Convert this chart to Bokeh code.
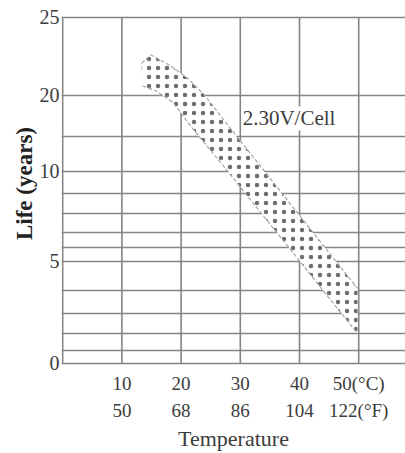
import numpy as np
from bokeh.plotting import figure
from bokeh.models import Range1d, FixedTicker, LinearAxis, Label
from bokeh.embed import file_html
from bokeh.resources import INLINE

# printed (non-uniform) life scale: life value -> relative height 0..100
SCALE_LIFE = [0, 1, 2, 3, 4, 5, 6, 7, 8, 9, 10, 15, 20, 25]
SCALE_POS = [0, 3.76, 8.67, 14.45, 21.1, 29.5, 33.5, 37.9, 43.4, 49.1, 55.5, 65.6, 77.5, 100]

Y_TICK_LIFE = [0, 5, 10, 20, 25]
Y_TICK_LABELS = ["0", "5", "10", "20", "25"]

X_GRID_C = [0, 10, 20, 30, 40, 50]
X_TICK_C = [10, 20, 30, 40, 50]
X_LABELS_C = ["10", "20", "30", "40", "50(°C)"]
X_LABELS_F = ["50", "68", "86", "104", "122(°F)"]

# 2.30V/Cell life band: upper and lower bounds (temperature °C, life years)
UPPER_T = [13.3, 14.9, 18.2, 21.1, 24.0, 28.2, 33.1, 38.0, 43.9, 49.8]
UPPER_LIFE = [22.05, 22.6, 21.9, 21.1, 20.0, 16.1, 11.1, 8.65, 6.2, 4.07]
LOWER_T = [13.5, 15.7, 18.6, 21.8, 27.9, 31.8, 36.0, 40.2, 44.9, 49.8]
LOWER_LIFE = [20.6, 20.3, 19.15, 16.1, 10.0, 8.65, 7.05, 4.97, 3.70, 2.0]

BAND_LABEL = "2.30V/Cell"
BAND_LABEL_T = 30.4
BAND_LABEL_LIFE = 17.2


def ypos(life):
    return np.interp(np.asarray(life, dtype=float), SCALE_LIFE, SCALE_POS)


GRID_COLOR = "#858585"
TEXT_COLOR = "#3c3c3c"
FONT = "Liberation Serif"

p = figure(width=405, height=453,
           x_range=Range1d(-0.2, 57.9), y_range=Range1d(-0.87, 104.91),
           output_backend="svg", toolbar_location=None,
           min_border_left=61, min_border_top=0, min_border_right=0, min_border_bottom=87)
p.outline_line_color = None
p.background_fill_color = "white"
p.xgrid.visible = False

p.ygrid.ticker = FixedTicker(ticks=[float(v) for v in SCALE_POS])
p.ygrid.grid_line_color = GRID_COLOR
p.ygrid.grid_line_width = 1.6

# vertical grid lines (between life 0 and life 25)
p.segment(x0=X_GRID_C, y0=[float(ypos(0))] * len(X_GRID_C),
          x1=X_GRID_C, y1=[float(ypos(25))] * len(X_GRID_C),
          line_color=GRID_COLOR, line_width=1.6)

# band (white, dotted)
bx = UPPER_T + LOWER_T[::-1]
by = list(ypos(UPPER_LIFE + LOWER_LIFE[::-1]))
p.patch(bx, by, fill_color="white", line_color=None,
        hatch_pattern="dot", hatch_color="#6e6e6e", hatch_scale=9, hatch_weight=0.5)
p.line(UPPER_T, list(ypos(UPPER_LIFE)), line_color="#a0a0a0", line_width=1.1, line_dash="4 2")
p.line(LOWER_T, list(ypos(LOWER_LIFE)), line_color="#a0a0a0", line_width=1.1, line_dash="4 2")

p.add_layout(Label(x=BAND_LABEL_T, y=float(ypos(BAND_LABEL_LIFE)), text=BAND_LABEL,
                   text_font=FONT, text_font_size="21px", text_color=TEXT_COLOR,
                   text_baseline="middle", text_align="left",
                   background_fill_color="white"))


def style_axis(ax, standoff):
    ax.axis_line_color = None
    ax.major_tick_line_color = None
    ax.minor_tick_line_color = None
    ax.major_tick_out = 0
    ax.major_tick_in = 0
    ax.minor_tick_out = 0
    ax.major_label_standoff = standoff
    ax.major_label_text_font = FONT
    ax.major_label_text_font_size = "19px"
    ax.major_label_text_color = TEXT_COLOR
    ax.axis_label_text_font = FONT
    ax.axis_label_text_color = TEXT_COLOR


# y axis
ya = p.yaxis[0]
y_ticks = [float(v) for v in ypos(Y_TICK_LIFE)]
ya.ticker = FixedTicker(ticks=y_ticks)
ya.major_label_overrides = {t: l for t, l in zip(y_ticks, Y_TICK_LABELS)}
style_axis(ya, 2)
ya.major_label_text_font_size = "20px"
ya.axis_label = "Life (years)"
ya.axis_label_text_font_style = "bold"
ya.axis_label_text_font_size = "23px"
ya.axis_label_text_color = "#222222"
ya.axis_label_standoff = 0

# x axis (°C)
xa = p.xaxis[0]
xa.ticker = FixedTicker(ticks=X_TICK_C)
xa.major_label_overrides = {t: l for t, l in zip(X_TICK_C, X_LABELS_C)}
style_axis(xa, 6)

# x axis (°F)
fa = LinearAxis(ticker=FixedTicker(ticks=X_TICK_C),
                major_label_overrides={t: l for t, l in zip(X_TICK_C, X_LABELS_F)},
                axis_label="Temperature")
style_axis(fa, 3)
fa.axis_label_text_font_style = "normal"
fa.axis_label_text_font_size = "22px"
fa.axis_label_standoff = 2
p.add_layout(fa, "below")

open("out.html", "w").write(file_html(p, INLINE))
